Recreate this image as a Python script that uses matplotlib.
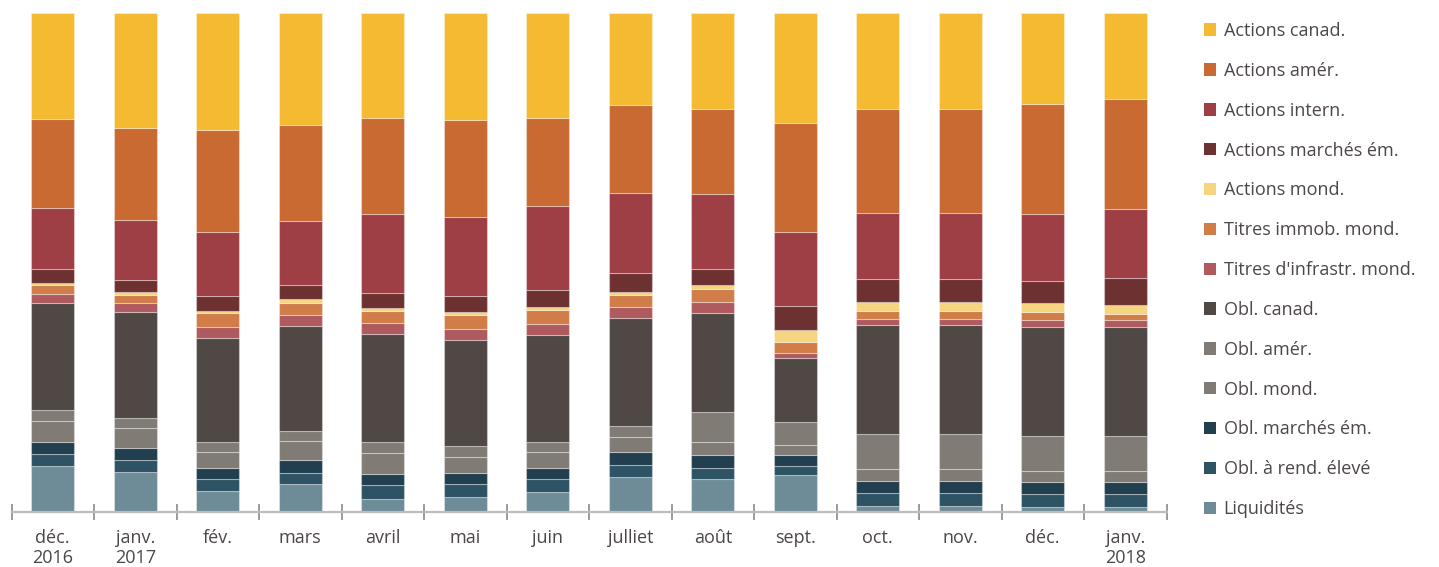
import matplotlib
matplotlib.use("Agg")
import matplotlib.pyplot as plt
from matplotlib.patches import Patch
import numpy as np

plt.rcParams["font.family"] = ["Open Sans", "DejaVu Sans"]

months = ["déc.\n2016", "janv.\n2017", "fév.", "mars", "avril", "mai", "juin",
          "julliet", "août", "sept.", "oct.", "nov.", "déc.", "janv.\n2018"]

# Portfolio weights (%) by asset class, stacked bottom to top
liquidites      = [9.2, 8.0, 4.3, 5.6, 2.7, 3.1, 4.1, 7.0, 6.6, 7.4, 1.3, 1.3, 1.0, 1.0]
obl_rend_eleve  = [2.5, 2.5, 2.3, 2.3, 2.7, 2.5, 2.5, 2.5, 2.3, 1.9, 2.6, 2.6, 2.6, 2.6]
obl_marches_em  = [2.3, 2.3, 2.3, 2.5, 2.2, 2.3, 2.3, 2.5, 2.6, 2.1, 2.3, 2.3, 2.4, 2.4]
obl_mond        = [4.3, 4.1, 3.2, 3.8, 4.3, 3.2, 3.2, 3.1, 2.6, 2.1, 2.5, 2.5, 2.3, 2.3]
obl_amer        = [2.1, 2.0, 2.0, 2.1, 2.1, 2.1, 2.0, 2.1, 5.9, 4.5, 6.9, 6.9, 7.0, 7.0]
obl_canad       = [21.4, 21.1, 20.8, 21.0, 21.6, 21.3, 21.4, 21.6, 19.9, 12.8, 21.8, 21.8, 21.8, 21.8]
titres_infra    = [1.9, 1.9, 2.1, 2.1, 2.2, 2.2, 2.2, 2.2, 2.1, 1.1, 1.2, 1.2, 1.3, 1.3]
titres_immob    = [1.7, 1.5, 2.8, 2.5, 2.5, 2.8, 2.7, 2.5, 2.7, 2.2, 1.7, 1.7, 1.6, 1.3]
actions_mond    = [0.5, 0.7, 0.5, 0.8, 0.5, 0.5, 0.6, 0.6, 0.7, 2.3, 1.8, 1.8, 1.8, 1.7]
actions_em      = [2.7, 2.3, 2.9, 2.7, 3.1, 3.3, 3.5, 3.8, 3.2, 4.9, 4.5, 4.5, 4.5, 5.4]
actions_intern  = [12.3, 12.2, 13.0, 13.0, 15.9, 15.8, 16.8, 16.1, 15.2, 14.8, 13.3, 13.3, 13.5, 14.0]
actions_amer    = [17.9, 18.3, 20.3, 19.1, 19.2, 19.5, 17.6, 17.5, 17.0, 21.8, 20.8, 20.8, 22.0, 22.0]
actions_canad   = [21.2, 23.1, 23.5, 22.5, 21.0, 21.4, 21.1, 18.5, 19.2, 22.1, 19.3, 19.3, 18.2, 17.2]

series = [
    ("Liquidités", liquidites, "#6e8c98"),
    ("Obl. à rend. élevé", obl_rend_eleve, "#2d5365"),
    ("Obl. marchés ém.", obl_marches_em, "#213f4f"),
    ("Obl. mond.", obl_mond, "#807b74"),
    ("Obl. amér.", obl_amer, "#807b74"),
    ("Obl. canad.", obl_canad, "#4f4845"),
    ("Titres d'infrastr. mond.", titres_infra, "#ae5a5e"),
    ("Titres immob. mond.", titres_immob, "#d07d4a"),
    ("Actions mond.", actions_mond, "#f5d57f"),
    ("Actions marchés ém.", actions_em, "#6e3132"),
    ("Actions intern.", actions_intern, "#9e3f45"),
    ("Actions amér.", actions_amer, "#c96a32"),
    ("Actions canad.", actions_canad, "#f3ba32"),
]

fig = plt.figure(figsize=(14.39, 5.67), dpi=100)
ax = fig.add_axes([11.5 / 1439, 1 - 512 / 567, 1155 / 1439, 499 / 567])

x = np.arange(len(months))
bottom = np.zeros(len(months))
for name, vals, color in series:
    vals = np.asarray(vals, dtype=float)
    ax.bar(x, vals, width=0.52, bottom=bottom, color=color,
           edgecolor=(1, 1, 1, 0.35), linewidth=0.8, label=name)
    bottom += vals

ax.set_xlim(-0.5, len(months) - 0.5)
ax.set_ylim(0, 100)

for side in ("left", "right", "top"):
    ax.spines[side].set_visible(False)
ax.spines["bottom"].set_color("#bdbdbd")
ax.spines["bottom"].set_linewidth(1.6)
ax.set_yticks([])

ax.set_xticks(x)
ax.set_xticklabels(months, fontsize=13, color="#4d4646", linespacing=1.15)
ax.set_xticks(np.arange(-0.5, len(months)), minor=True)
ax.tick_params(axis="x", which="major", length=0, pad=12)
ax.tick_params(axis="x", which="minor", direction="inout", length=11,
               width=1.2, color="#8a8a8a")

handles = [Patch(facecolor=c, edgecolor="none") for _, _, c in series][::-1]
labels = [n for n, _, _ in series][::-1]
fig.legend(handles, labels, loc="upper left", bbox_to_anchor=(1204 / 1439, 1 - 22 / 567),
           frameon=False, fontsize=13, handlelength=0.68, handleheight=0.68,
           handletextpad=0.4, labelspacing=1.21, labelcolor="#4d4646", borderpad=0,
           borderaxespad=0)

fig.savefig("out.png", dpi=100, facecolor="white")
